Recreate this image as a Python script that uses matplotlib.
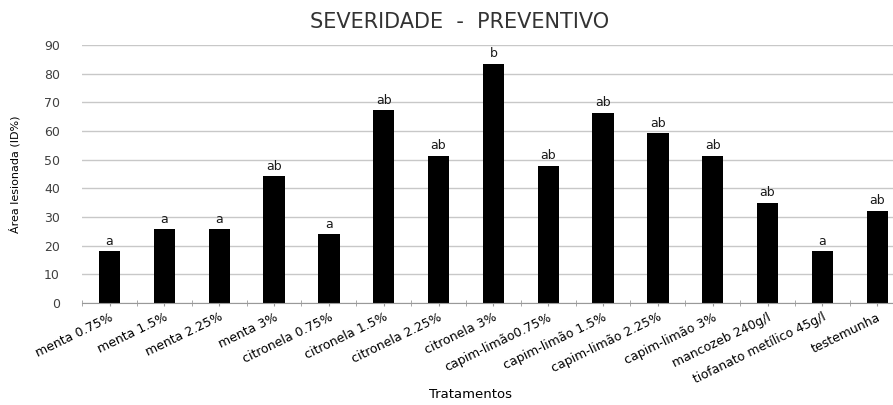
import numpy as np
import matplotlib
matplotlib.use('Agg')
from matplotlib import pyplot as plt

tratamentos = ['menta 0.75%', 'menta 1.5%', 'menta 2.25%', 'menta 3%',
               'citronela 0.75%', 'citronela 1.5%', 'citronela 2.25%', 'citronela 3%',
               'capim-limão0.75%', 'capim-limão 1.5%', 'capim-limão 2.25%', 'capim-limão 3%',
               'mancozeb 240g/l', 'tiofanato metílico 45g/l', 'testemunha']
area = [18.0, 25.8, 25.8, 44.3, 24.0, 67.3, 51.3, 83.4,
        47.8, 66.3, 59.3, 51.3, 34.9, 18.1, 32.1]
letras = ['a', 'a', 'a', 'ab', 'a', 'ab', 'ab', 'b',
          'ab', 'ab', 'ab', 'ab', 'ab', 'a', 'ab']

# fonte larga para aproximar o texto "esticado" da imagem original
plt.rcParams['font.family'] = ['DejaVu Sans']

fig = plt.figure(figsize=(8.93, 4.05), dpi=100)
ax = fig.add_axes([0.092, 0.252, 0.921, 0.637])

x = np.arange(len(tratamentos))
ax.bar(x, area, width=0.39, color='black', zorder=3)

# letras das medias
for xi, v, l in zip(x, area, letras):
    ax.text(xi, v + 1.2, l, ha='center', va='bottom', fontsize=9, color='#1a1a1a')

ax.set_xlim(-0.5, len(tratamentos) - 0.5)
ax.set_ylim(0, 90)
ax.set_yticks(range(0, 91, 10))
ax.grid(axis='y', color='#c8c8c8', linewidth=1, zorder=0)

ax.set_xticks(x)
ax.set_xticklabels(tratamentos, rotation=26, ha='right', rotation_mode='anchor', fontsize=9)
ax.set_xticks(np.arange(-0.5, len(tratamentos), 1), minor=True)
ax.tick_params(axis='x', which='both', direction='inout', length=5, color='#999999', pad=3)
ax.tick_params(axis='y', length=0, labelsize=9, pad=16, labelcolor='#404040')

for s in ['top', 'right', 'left']:
    ax.spines[s].set_visible(False)
ax.spines['bottom'].set_color('#999999')
ax.spines['bottom'].set_zorder(4)

ax.set_ylabel('Área lesionada (ID%)', fontsize=8, labelpad=4)
ax.yaxis.set_label_coords(-0.075, 0.5)
fig.text(0.527, 0.01, 'Tratamentos', ha='center', va='bottom', fontsize=9.5)
fig.text(0.515, 0.92, 'SEVERIDADE  -  PREVENTIVO', ha='center', va='bottom', fontsize=15, color='#333333')

fig.savefig('out.png', dpi=100)
